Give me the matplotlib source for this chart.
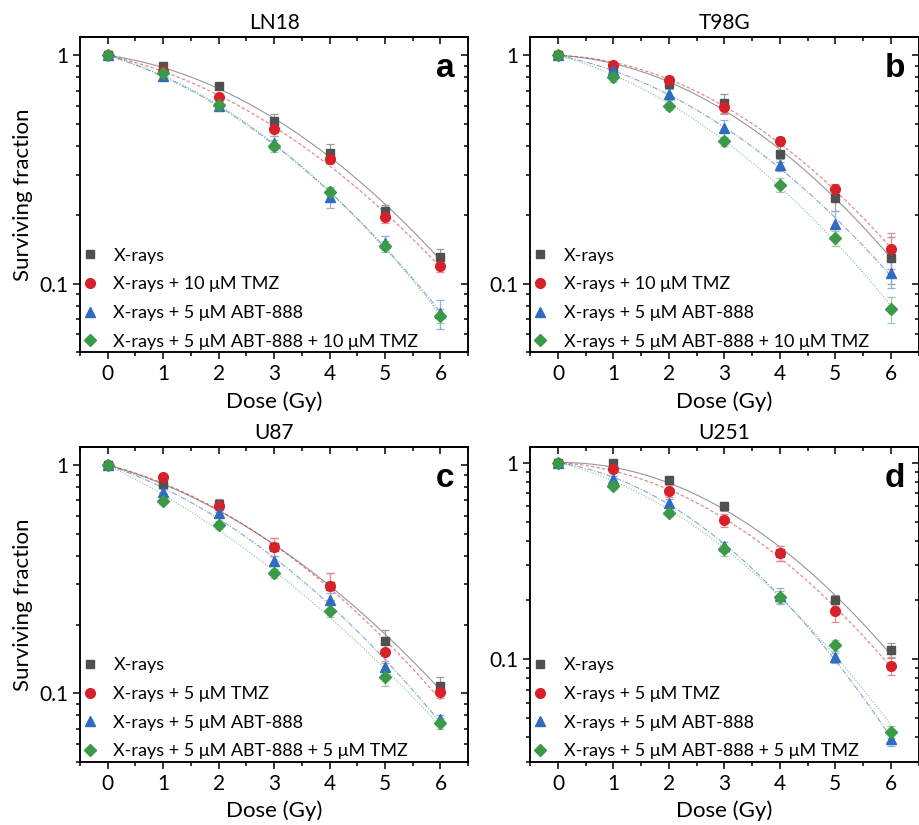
import numpy as np
import matplotlib.pyplot as plt
from matplotlib.ticker import LogLocator, NullFormatter, MultipleLocator, FixedFormatter, FixedLocator

plt.rcParams['font.family'] = ['Lato', 'DejaVu Sans']

dose = np.array([0, 1, 2, 3, 4, 5, 6])

# LN18
ln18_x = [1, 0.895, 0.732, 0.516, 0.374, 0.208, 0.131]
ln18_tmz = [1, 0.854, 0.657, 0.474, 0.353, 0.195, 0.119]
ln18_abt = [1, 0.809, 0.598, 0.413, 0.240, 0.151, 0.074]
ln18_both = [1, 0.837, 0.604, 0.401, 0.253, 0.146, 0.072]
ln18_x_err = [0, 0.03, 0.02, 0.035, 0.035, 0.012, 0.011]
ln18_tmz_err = [0, 0.03, 0.02, 0.03, 0.02, 0.01, 0.007]
ln18_abt_err = [0, 0.02, 0.02, 0.03, 0.025, 0.01, 0.011]
ln18_both_err = [0, 0.02, 0.02, 0.025, 0.01, 0.008, 0.005]

# T98G
t98_x = [1, 0.889, 0.746, 0.618, 0.371, 0.238, 0.1295]
t98_tmz = [1, 0.904, 0.782, 0.594, 0.421, 0.259, 0.1414]
t98_abt = [1, 0.860, 0.675, 0.481, 0.332, 0.183, 0.111]
t98_both = [1, 0.804, 0.598, 0.421, 0.271, 0.1585, 0.0775]
t98_x_err = [0, 0.03, 0.03, 0.06, 0.03, 0.03, 0.03]
t98_tmz_err = [0, 0.03, 0.03, 0.04, 0.02, 0.015, 0.025]
t98_abt_err = [0, 0.03, 0.04, 0.04, 0.02, 0.025, 0.015]
t98_both_err = [0, 0.04, 0.02, 0.02, 0.02, 0.012, 0.01]

# U87
u87_x = [1, 0.826, 0.673, 0.439, 0.296, 0.170, 0.108]
u87_tmz = [1, 0.883, 0.661, 0.439, 0.296, 0.151, 0.101]
u87_abt = [1, 0.764, 0.618, 0.381, 0.256, 0.130, 0.077]
u87_both = [1, 0.698, 0.546, 0.335, 0.230, 0.1175, 0.074]
u87_x_err = [0, 0.03, 0.04, 0.04, 0.04, 0.02, 0.01]
u87_tmz_err = [0, 0.02, 0.04, 0.04, 0.04, 0.015, 0.006]
u87_abt_err = [0, 0.02, 0.02, 0.02, 0.02, 0.008, 0.003]
u87_both_err = [0, 0.02, 0.02, 0.015, 0.015, 0.01, 0.004]

# U251
u251_x = [1, 0.992, 0.813, 0.599, 0.347, 0.199, 0.1115]
u251_tmz = [1, 0.932, 0.717, 0.508, 0.345, 0.175, 0.0928]
u251_abt = [1, 0.822, 0.620, 0.376, 0.2105, 0.102, 0.0392]
u251_both = [1, 0.760, 0.556, 0.364, 0.207, 0.1174, 0.0428]
u251_x_err = [0, 0.04, 0.02, 0.03, 0.03, 0.012, 0.01]
u251_tmz_err = [0, 0.04, 0.05, 0.04, 0.03, 0.02, 0.01]
u251_abt_err = [0, 0.03, 0.03, 0.02, 0.02, 0.006, 0.003]
u251_both_err = [0, 0.03, 0.02, 0.03, 0.015, 0.008, 0.003]

titles = ['LN18', 'T98G', 'U87', 'U251']
letters = ['a', 'b', 'c', 'd']
labels_10 = ['X-rays', 'X-rays + 10 μM TMZ', 'X-rays + 5 μM ABT-888',
             'X-rays + 5 μM ABT-888 + 10 μM TMZ']
labels_5 = ['X-rays', 'X-rays + 5 μM TMZ', 'X-rays + 5 μM ABT-888',
            'X-rays + 5 μM ABT-888 + 5 μM TMZ']
ylims = [(0.05, 1.2), (0.05, 1.2), (0.05, 1.2), (0.03, 1.2)]

panels = [
    (ln18_x, ln18_tmz, ln18_abt, ln18_both, ln18_x_err, ln18_tmz_err, ln18_abt_err, ln18_both_err),
    (t98_x, t98_tmz, t98_abt, t98_both, t98_x_err, t98_tmz_err, t98_abt_err, t98_both_err),
    (u87_x, u87_tmz, u87_abt, u87_both, u87_x_err, u87_tmz_err, u87_abt_err, u87_both_err),
    (u251_x, u251_tmz, u251_abt, u251_both, u251_x_err, u251_tmz_err, u251_abt_err, u251_both_err),
]

colors = ['#505050', '#d7212a', '#2f6cc0', '#3a9a48']
err_colors = ['#9a9a9a', '#e88a8e', '#8fb0de', '#98cc9f']
markers = ['s', 'o', '^', 'D']
msizes = [6, 7, 7, 6]
styles = ['-', (0, (3, 2)), (0, (5, 1.5, 1, 1.5)), (0, (1, 1.5))]

fig = plt.figure(figsize=(9.19, 8.25), dpi=100)
pos = [(0.087, 0.573), (0.577, 0.573), (0.087, 0.0764), (0.577, 0.0764)]


def style_ticks(a, direction):
    a.tick_params(which='both', direction=direction, width=1.1)
    a.tick_params(which='major', length=5)
    a.tick_params(which='minor', length=3)


for i in range(4):
    ax = fig.add_axes([pos[i][0], pos[i][1], 0.4225, 0.3818])
    data = panels[i]
    labels = labels_10 if i < 2 else labels_5
    dd = np.linspace(0, 6, 200)
    for k in range(4):
        y = np.array(data[k])
        # linear-quadratic fit through origin
        A = np.column_stack([dose, dose ** 2])
        coef, *_ = np.linalg.lstsq(A, -np.log(y), rcond=None)
        fit = np.exp(-coef[0] * dd - coef[1] * dd ** 2)
        ax.plot(dd, fit, color=colors[k], lw=0.8, ls=styles[k], alpha=0.6, zorder=2)
        ax.errorbar(dose, y, yerr=data[k + 4], fmt='none', ecolor=err_colors[k],
                    elinewidth=0.9, capsize=3, capthick=0.9, zorder=3)
        ax.plot(dose, y, ls='none', marker=markers[k], color=colors[k],
                ms=msizes[k], mec=colors[k], label=labels[k], zorder=4)

    ax.set_yscale('log')
    ax.set_ylim(*ylims[i])
    ax.set_xlim(-0.5, 6.5)
    ax.xaxis.set_major_locator(MultipleLocator(1))
    ax.xaxis.set_minor_locator(MultipleLocator(0.5))
    ax.yaxis.set_major_locator(FixedLocator([0.1, 1]))
    ax.yaxis.set_major_formatter(FixedFormatter(['0.1', '1']))
    ax.yaxis.set_minor_locator(LogLocator(base=10, subs=np.arange(2, 10)))
    ax.yaxis.set_minor_formatter(NullFormatter())
    style_ticks(ax, 'out')
    ax.tick_params(labelsize=15)

    ax2 = ax.twinx()
    ax2.set_yscale('log')
    ax2.set_ylim(*ylims[i])
    ax2.yaxis.set_major_locator(FixedLocator([0.1, 1]))
    ax2.yaxis.set_minor_locator(LogLocator(base=10, subs=np.arange(2, 10)))
    ax2.yaxis.set_major_formatter(NullFormatter())
    ax2.yaxis.set_minor_formatter(NullFormatter())
    style_ticks(ax2, 'in')

    sec = ax.secondary_xaxis('top')
    sec.xaxis.set_major_locator(MultipleLocator(1))
    sec.xaxis.set_minor_locator(MultipleLocator(0.5))
    sec.tick_params(labeltop=False)
    style_ticks(sec, 'in')
    for sp in list(ax.spines.values()) + list(ax2.spines.values()) + list(sec.spines.values()):
        sp.set_linewidth(1.1)

    ax.set_title(titles[i], fontsize=15, pad=6)
    ax.set_xlabel('Dose (Gy)', fontsize=16, labelpad=5)
    if i % 2 == 0:
        ax.set_ylabel('Surviving fraction', fontsize=16, labelpad=4)
    ax.text(0.965, 0.95, letters[i], transform=ax.transAxes, ha='right', va='top',
            fontsize=24, fontweight='bold', family='Liberation Sans')
    ax.legend(loc='lower left', frameon=False, fontsize=13, handlelength=0.8,
              handletextpad=0.9, labelspacing=0.7, borderaxespad=0.0, borderpad=0.15)

fig.savefig('out.png', dpi=100)
